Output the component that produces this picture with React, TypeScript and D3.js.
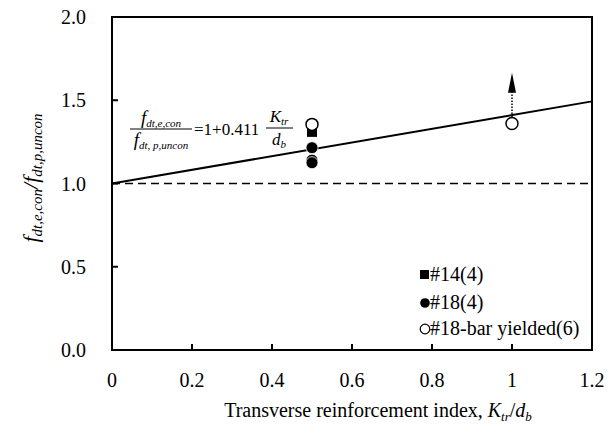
import React from "react";
import * as d3 from "d3";

const xTicks = [0, 0.2, 0.4, 0.6, 0.8, 1, 1.2];
const xTickLabels = ["0", "0.2", "0.4", "0.6", "0.8", "1", "1.2"];
const yTicks = [0, 0.5, 1.0, 1.5, 2.0];
const yTickLabels = ["0.0", "0.5", "1.0", "1.5", "2.0"];

const squareX = [0.5];
const squareY = [1.31];
const filledX = [0.5, 0.5, 0.5];
const filledY = [1.215, 1.14, 1.125];
const openX = [0.5, 1.0];
const openY = [1.355, 1.36];

const regIntercept = 1;
const regSlope = 0.411;
const arrowX = [1.0];
const arrowFrom = [1.4];
const arrowTo = [1.665];

const legendLabels = ["#14(4)", "#18(4)", "#18-bar yielded(6)"];

const W = 616, H = 438;
const L = 112, R = 592, T = 17, B = 350;
const FF = "Liberation Serif";

export default function App() {
  const x = d3.scaleLinear().domain([0, 1.2]).range([L, R]);
  const y = d3.scaleLinear().domain([0, 2]).range([B, T]);
  const line = d3.line<number>().x((d) => x(d)).y((d) => y(regIntercept + regSlope * d));
  const regPath = line([0, 1.2]) || "";

  return (
    <svg width={W} height={H} style={{ position: "absolute", left: 0, top: 0 }}>
      <style>{`text, tspan { font-family: "Liberation Serif", "Times New Roman", serif; }`}</style>
      <rect x={0} y={0} width={W} height={H} fill="#fff" />
      <line x1={x(0)} x2={x(1.2)} y1={y(1)} y2={y(1)} stroke="#000" strokeWidth={1.6} strokeDasharray="8,5" />
      <path d={regPath} stroke="#000" strokeWidth={2} fill="none" />
      {arrowX.map((ax, i) => (
        <g key={"ar" + i}>
          <line x1={x(ax)} x2={x(ax)} y1={y(arrowFrom[i])} y2={y(arrowTo[i]) + 19} stroke="#000" strokeWidth={1.5} strokeDasharray="1.5,1.5" />
          <path d={`M${x(ax)},${y(arrowTo[i])} L${x(ax) - 4},${y(arrowTo[i]) + 20} L${x(ax) + 4},${y(arrowTo[i]) + 20} Z`} fill="#000" />
        </g>
      ))}
      {squareX.map((sx, i) => (
        <rect key={"sq" + i} x={x(sx) - 5} y={y(squareY[i]) - 5} width={10} height={10} fill="#000" />
      ))}
      {filledX.map((fx, i) => (
        <circle key={"fc" + i} cx={x(fx)} cy={y(filledY[i])} r={6} fill="#000" stroke="#fff" strokeWidth={0.8} />
      ))}
      {openX.map((ox, i) => (
        <circle key={"oc" + i} cx={x(ox)} cy={y(openY[i])} r={6} fill="#fff" stroke="#000" strokeWidth={1.5} />
      ))}
      <rect x={L} y={T} width={R - L} height={B - T} fill="none" stroke="#000" strokeWidth={2} />
      {yTicks.map((t, i) => (
        <g key={"yt" + i}>
          <line x1={L} x2={L + 6} y1={y(t)} y2={y(t)} stroke="#000" strokeWidth={2} />
          <text x={L - 26} y={y(t) + 7} textAnchor="end" fontSize={20} fontFamily={FF}>{yTickLabels[i]}</text>
        </g>
      ))}
      {xTicks.map((t, i) => (
        <g key={"xt" + i}>
          <line x1={x(t)} x2={x(t)} y1={B} y2={B - 6} stroke="#000" strokeWidth={2} />
          <text x={x(t)} y={387} textAnchor="middle" fontSize={20} fontFamily={FF}>{xTickLabels[i]}</text>
        </g>
      ))}
      <text x={378} y={417} textAnchor="middle" fontSize={20} fontFamily={FF}>
        {"Transverse reinforcement index, "}<tspan fontStyle="italic">K</tspan>
        <tspan fontStyle="italic" fontSize={13} dy={4}>tr</tspan>
        <tspan dy={-4}>/</tspan>
        <tspan fontStyle="italic">d</tspan>
        <tspan fontStyle="italic" fontSize={13} dy={4}>b</tspan>
      </text>
      <text transform="translate(38,178) rotate(-90)" textAnchor="middle" fontSize={22} fontStyle="italic" fontFamily={FF}>
        <tspan>f</tspan>
        <tspan fontSize={15} dy={4}>dt,e,con</tspan>
        <tspan dy={-4}>/</tspan>
        <tspan>f</tspan>
        <tspan fontSize={15} dy={4}>dt,p,uncon</tspan>
      </text>
      <g fontSize={17} fontFamily={FF}>
        <text x={161} y={124} textAnchor="middle" fontStyle="italic">
          <tspan fontSize={19}>f</tspan>
          <tspan fontSize={11} dy={3}>dt,e,con</tspan>
        </text>
        <line x1={130} x2={192} y1={129} y2={129} stroke="#000" strokeWidth={1} />
        <text x={161} y={146} textAnchor="middle" fontStyle="italic">
          <tspan fontSize={19}>f</tspan>
          <tspan fontSize={11} dy={3}>dt, p,uncon</tspan>
        </text>
        <text x={194} y={135}>=1+0.411</text>
        <text x={279} y={122} textAnchor="middle" fontStyle="italic">
          <tspan>K</tspan>
          <tspan fontSize={11} dy={3}>tr</tspan>
        </text>
        <line x1={266} x2={293} y1={128} y2={128} stroke="#000" strokeWidth={1} />
        <text x={279} y={145} textAnchor="middle" fontStyle="italic">
          <tspan>d</tspan>
          <tspan fontSize={11} dy={3}>b</tspan>
        </text>
      </g>
      <g fontSize={20} fontFamily={FF}>
        <rect x={420} y={270} width={9} height={9} fill="#000" />
        <text x={430} y={281}>{legendLabels[0]}</text>
        <circle cx={425} cy={303} r={4.8} fill="#000" />
        <text x={430} y={309}>{legendLabels[1]}</text>
        <circle cx={425} cy={329} r={4.8} fill="#fff" stroke="#000" strokeWidth={1.2} />
        <text x={430} y={335}>{legendLabels[2]}</text>
      </g>
    </svg>
  );
}
